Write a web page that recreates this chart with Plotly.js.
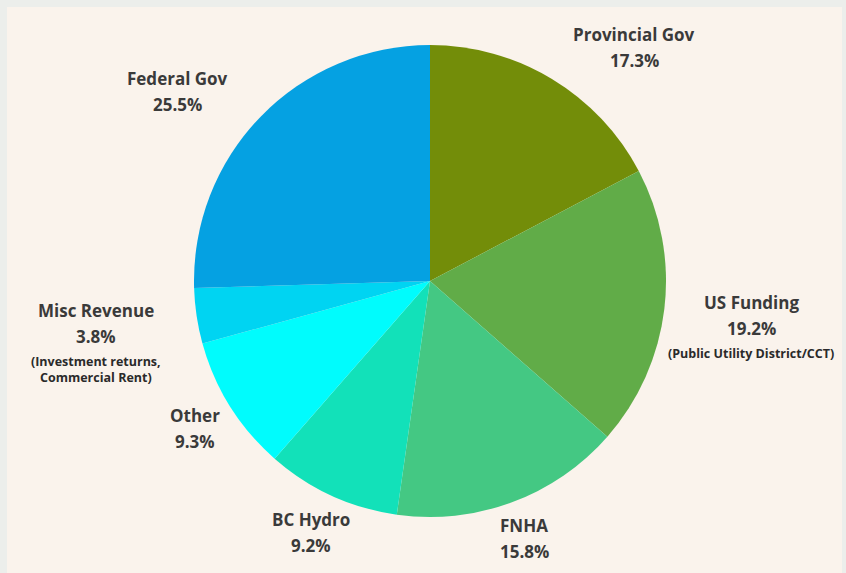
<!DOCTYPE html>
<html>
<head>
<meta charset="utf-8">
<script src="https://cdn.plot.ly/plotly-3.0.1.min.js"></script>
<style>
html,body{margin:0;padding:0;background:#eceeeb;}
#chart{width:846px;height:573px;}
</style>
</head>
<body>
<div id="chart"></div>
<script>
const categories = ["Provincial Gov", "US Funding", "FNHA", "BC Hydro", "Other", "Misc Revenue", "Federal Gov"];
const shares = [17.3, 19.2, 15.8, 9.2, 9.3, 3.8, 25.5];
const sliceColors = ["#738d09", "#61ac48", "#44c883", "#12e1b9", "#00fcfd", "#00d4f2", "#05a1e2"];
const subNotes = ["", "(Public Utility District/CCT)", "", "", "", "(Investment returns,<br>Commercial Rent)", ""];
// label anchor points (pixels in the 846x573 figure, centre of the first line)
const labelPos = [[634, 35], [751, 302], [524, 525], [311, 519], [195, 415], [96, 310], [177, 78]];

const W = 846, H = 573;
const FONT = "'Open Sans', Lato, sans-serif";
const annotations = [];
categories.forEach((c, i) => {
  const [px, py] = labelPos[i];
  annotations.push({
    xref: "paper", yref: "paper", x: px / W, y: 1 - py / H,
    xanchor: "center", yanchor: "middle", showarrow: false,
    text: "<b>" + c + "</b>",
    font: {family: FONT, size: 17, color: "#3a3a3a"}
  });
  annotations.push({
    xref: "paper", yref: "paper", x: px / W, y: 1 - (py + 26) / H,
    xanchor: "center", yanchor: "middle", showarrow: false,
    text: "<b>" + shares[i].toFixed(1) + "%</b>",
    font: {family: FONT, size: 17, color: "#3a3a3a"}
  });
  if (subNotes[i]) {
    annotations.push({
      xref: "paper", yref: "paper", x: px / W, y: 1 - (py + 41) / H,
      xanchor: "center", yanchor: "top", showarrow: false, align: "center",
      text: "<b>" + subNotes[i] + "</b>",
      font: {family: FONT, size: 12.5, color: "#2a2a2a"}
    });
  }
});

const cx = 430, cy = 281, r = 236;
const data = [{
  type: "pie",
  labels: categories,
  values: shares,
  sort: false,
  direction: "clockwise",
  rotation: 0,
  textinfo: "none",
  hoverinfo: "label+percent",
  marker: {colors: sliceColors, line: {width: 0}},
  domain: {x: [(cx - r) / W, (cx + r) / W], y: [1 - (cy + r) / H, 1 - (cy - r) / H]},
  showlegend: false
}];

const layout = {
  width: W, height: H,
  margin: {l: 0, r: 0, t: 0, b: 0},
  paper_bgcolor: "#eceeeb",
  showlegend: false,
  shapes: [{
    type: "rect", xref: "paper", yref: "paper", layer: "below",
    x0: 7 / W, x1: 842 / W, y0: 0, y1: 1 - 7 / H,
    fillcolor: "#faf3ec", line: {width: 0}
  }],
  annotations: annotations
};

Plotly.newPlot("chart", data, layout, {displayModeBar: false, staticPlot: true});
</script>
</body>
</html>
